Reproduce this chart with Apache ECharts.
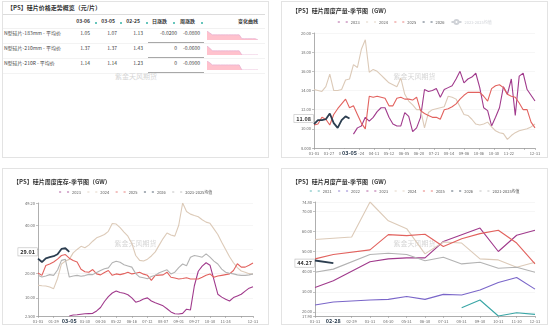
<!DOCTYPE html>
<html><head><meta charset="utf-8">
<script src="https://cdn.jsdelivr.net/npm/echarts@6.0.0/dist/echarts.min.js"></script>
<style>
html,body{margin:0;padding:0;background:#fff;}
body{width:550px;height:326px;position:relative;overflow:hidden;font-family:"Noto Sans CJK SC","Noto Sans",sans-serif;color:#333;}
.panel{position:absolute;border:1px solid #e3e3e3;box-sizing:border-box;background:#fff;}
.chart{position:absolute;left:0;top:0;width:265px;height:155px;}
.t{position:absolute;white-space:nowrap;font-size:5px;line-height:6px;color:#444;}
.hd{font-weight:bold;color:#333;}
.ic{position:absolute;width:2px;height:2.5px;background:#34b3a6;border-radius:1px;}
.ln{position:absolute;height:0;}
.sp{position:absolute;width:51px;height:9px;}
</style></head><body>
<div class="panel" id="tl" style="left:2px;top:1px;width:267px;height:157px;"></div>
<div class="panel" id="tr" style="left:281px;top:1px;width:267px;height:157px;"><div class="chart" id="c_tr"></div></div>
<div class="panel" id="bl" style="left:2px;top:168px;width:267px;height:157px;"><div class="chart" id="c_bl"></div></div>
<div class="panel" id="br" style="left:281px;top:168px;width:267px;height:157px;"><div class="chart" id="c_br"></div></div>
<script>
// ---------------- DATA: price table ----------------
const PRICE_TITLE = '【PS】硅片价格走势概览（元/片）';
const PRICE_HEADERS = ['03-06', '03-05', '02-25', '日涨跌', '周涨跌', '变化曲线'];
const PRICE_NAMES = ['N型硅片-183mm - 平均价', 'N型硅片-210mm - 平均价', 'N型硅片-210R - 平均价'];
const PRICE_0306 = ['1.05', '1.37', '1.14'];
const PRICE_0305 = ['1.07', '1.37', '1.14'];
const PRICE_0225 = ['1.13', '1.43', '1.23'];
const DAY_CHANGE = ['-0.0200', '0', '0'];
const WEEK_CHANGE = ['-0.0800', '-0.0600', '-0.0900'];
const SPARK_183 = [1.19, 1.16, 1.13, 1.13, 1.13, 1.13, 1.13, 1.13, 1.13, 1.13, 1.13, 1.13, 1.13, 1.07, 1.07, 1.07, 1.07, 1.07, 1.07, 1.05];
const SPARK_210 = [1.50, 1.47, 1.43, 1.43, 1.43, 1.43, 1.43, 1.43, 1.43, 1.43, 1.43, 1.43, 1.43, 1.37, 1.37, 1.37, 1.37, 1.37, 1.37, 1.37];
const SPARK_210R = [1.30, 1.27, 1.23, 1.23, 1.23, 1.23, 1.23, 1.23, 1.23, 1.23, 1.23, 1.23, 1.23, 1.14, 1.14, 1.14, 1.14, 1.14, 1.14, 1.14];
const WATERMARK = '紫金天风期货';

// ---------------- DATA: weekly output (top right) ----------------
const TR_TITLE = '【PS】硅片周度产量-季节图（GW）';
const TR_TICKS = ['01-03', '01-27', '02-18', '03-24', '04-11', '05-12', '06-05', '06-20', '07-21', '08-14', '09-06', '10-06', '10-30', '11-22'];
const TR_LAST_TICK = '12-31';
const TR_2023 = [null, null, null, null, null, null, null, null, null, null,
  9.45, 10.1, 10.3, 11.2, 10.8, 11.2, 11.8, 12.2, 12.2, 11.2, 10.5, 10.3, 10.3, 11.7, 11.3, 9.7, 10.1, 11.2, 14.1, 13.9,
  14.0, 14.2, 13.3, 14.1, 14.3, 14.5, 15.2, 16.0, 14.8, 15.2, 15.4, 15.8, 14.3, 12.2, 11.9, 10.3, 11.2, 12.2, 14.4, 13.6,
  15.2, 11.4, 15.5, 15.8, 14.1, 13.5, 12.9];
const TR_2024 = [14.1, 14.0, 13.9, 14.4, 15.7, 14.0, 14.0, 14.1, 15.1, 15.2, 16.7, 16.4, 18.3, 19.3, 15.9, 16.2, 16.0, 15.6, 15.2, 14.8,
  14.6, 14.4, 15.3, 13.6, 12.9, 12.5, 12.0, 12.0, 10.1, 11.7, 12.0, 12.1, 12.2, 12.3, 13.4, 13.3, 13.1, 12.3, 11.5, 11.4,
  11.0, 10.5, 10.4, 10.5, 10.7, 10.2, 9.8, 9.6, 9.5, 8.9, 9.3, 9.6, 9.8, 9.9, 10.0, 10.2, 10.5];
const TR_2025 = [10.4, 10.5, 11.2, 11.0, 10.4, 11.5, 12.1, 12.6, 13.1, 12.2, 12.4, 11.5, 10.6, 10.0, 13.4, 13.3, 13.4, 13.3, 13.2, 12.4,
  12.4, 13.2, 13.3, 13.1, 13.1, 13.0, 13.3, 11.9, 11.6, 11.4, 11.2, 11.2, 11.0, 12.0, 12.1, 12.3, 12.6, 13.1, 13.5, 13.8,
  13.8, 13.8, 13.8, 13.4, 12.9, 14.2, 14.5, 14.6, 14.3, 13.6, 13.4, 13.3, 12.7, 12.0, 12.0, 10.7, 10.1];
const TR_2026 = [10.5, 10.9, 10.9, 11.0, 11.6, 10.6, 10.1, 10.9, 11.3, 11.08];
const TR_AVG = []; // series switched off in the legend
const TR_LATEST = '03-05';

// ---------------- DATA: weekly inventory (bottom left) ----------------
const BL_TITLE = '【PS】硅片周度库存-季节图（GW）';
const BL_TICKS = ['01-03', '01-29', '02-24', '03-30', '04-26', '05-22', '06-16', '07-12', '08-07', '09-01', '09-27', '10-30', '11-24'];
const BL_LAST_TICK = '12-31';
const BL_2023 = [null, null, null, null, null, null, null, null,
  2.5, 2.9, 3.0, 3.2, 3.4, 3.5, 3.6, 4.6, 6.0, 8.5, 10.5, 12.0, 12.8, 12.2, 11.9, 11.3, 10.0, 8.2, 8.7, 9.5, 10.0, 8.7,
  8.0, 7.4, 6.7, 5.5, 4.2, 3.4, 3.3, 3.6, 5.3, 5.0, 15.0, 21.0, 23.1, 24.5, 23.5, 17.5, 11.5, 10.3, 9.4, 8.7,
  10.1, 10.8, 11.5, 12.8, 14.0, 14.6];
const BL_2024 = [15.2, 15.0, 14.9, 14.5, 13.8, 18.0, 24.0, 25.2, 25.9, 28.6, 30.0, 31.3, 30.7, 31.8, 33.4, 34.8, 35.5, 36.2, 37.5, 40.7,
  40.5, 39.0, 37.2, 35.5, 32.5, 27.5, 25.5, 25.2, 26.0, 27.3, 29.0, 31.8, 34.5, 36.8, 36.0, 35.5, 40.0, 49.2, 45.7, 44.6,
  44.0, 43.5, 42.3, 41.3, 40.8, 38.5, 36.2, 33.0, 30.0, 27.0, 24.5, 22.5, 21.1, 20.6, 20.0, 19.7];
const BL_2025 = [20.3, 19.3, 23.4, 24.0, 24.8, 26.0, 27.5, 27.9, 26.4, 25.4, 24.8, 21.8, 20.8, 20.6, 21.7, 19.9, 19.5, 20.5, 21.3, 19.3,
  19.9, 19.6, 20.0, 20.6, 19.9, 20.2, 20.6, 19.8, 19.3, 17.2, 19.3, 19.4, 19.5, 20.6, 18.5, 18.2, 17.8, 18.0, 18.3, 17.8,
  17.8, 17.8, 18.5, 19.3, 19.9, 18.5, 19.0, 19.3, 19.6, 19.9, 21.3, 24.1, 22.7, 22.7, 23.5, 24.4];
const BL_2026 = [26.2, 24.8, 26.3, 26.8, 27.2, 28.0, 30.2, 30.5, 29.01];
const BL_AVG = [19.3, 18.6, 19.0, 19.6, 19.3, 21.5, 25.5, 25.9, 18.6, 19.0, 19.3, 18.9, 19.2, 19.7, 19.6, 20.5, 21.3, 22.0, 22.4, 24.5,
  25.1, 24.7, 23.7, 23.2, 22.7, 20.0, 18.6, 18.3, 17.9, 18.8, 19.3, 20.4, 21.0, 21.6, 19.9, 20.6, 22.5, 24.0, 23.3, 26.8,
  27.5, 27.2, 26.8, 28.2, 26.8, 25.2, 24.0, 21.9, 20.6, 20.2, 19.9, 19.5, 19.3, 19.3, 19.5, 19.9];
const BL_LATEST = '03-05';

// ---------------- DATA: monthly output (bottom right) ----------------
const BR_TITLE = '【PS】硅片月度产量-季节图（GW）';
const BR_MONTHS = ['01-31', '02-28', '02-29', '03-31', '04-30', '05-31', '06-30', '07-31', '08-31', '09-30', '10-31', '11-30', '12-31'];
const BR_2021 = [null, null, null, null, null, null, null, null, 22.0, 25.9, 17.9, 19.5, 18.7];
const BR_2022 = [23.4, 24.9, null, 25.9, 26.2, 27.6, 26.2, 28.7, 28.4, 30.9, 34.6, 37.1, 31.3];
const BR_2023 = [32.1, 35.5, null, 45.0, 46.4, 46.9, 46.9, 55.1, 58.5, 61.8, 50.1, 58.2, 60.7];
const BR_2024 = [56.1, null, 57.3, 74.8, 65.4, 61.5, 48.9, 54.8, 54.3, 46.4, 45.9, 42.2, 44.7];
const BR_2025 = [46.4, 48.6, null, 50.9, 58.5, 58.0, 58.7, 52.6, 56.5, 59.0, 60.7, 54.3, 43.9];
const BR_2026 = [45.6, 44.27];
const BR_AVG = [39.7, 41.3, null, 48.6, 49.2, 48.6, 45.5, 47.2, 43.9, 44.7, 41.7, 42.2, 39.7];
const BR_LATEST = '02-28';

// ---------------- styles ----------------
const C = {y2021: '#3aa6a6', y2022: '#7a66c9', y2023: '#a03a8c', y2024: '#dccab8', y2025: '#e2625e', y2026: '#2c3e50', avg: '#b3b3b3'};
const FONT = '"Noto Sans CJK SC", "Noto Sans", sans-serif';

// ---------------- price table (HTML) ----------------
(function buildTable() {
  const tl = document.getElementById('tl');
  function put(text, x, y, align, cls) {
    const d = document.createElement('div');
    d.className = 't' + (cls ? ' ' + cls : '');
    d.textContent = text;
    d.style.top = (y - 3) + 'px';
    if (align === 'right') d.style.right = (265 - x) + 'px'; else d.style.left = x + 'px';
    tl.appendChild(d);
    return d;
  }
  function line(x, y, w, h, color) {
    const d = document.createElement('div');
    d.className = 'ln';
    d.style.cssText += `left:${x}px;top:${y}px;width:${w}px;border-top:${h}px solid ${color};`;
    tl.appendChild(d);
  }
  function icon(x, y) {
    const d = document.createElement('div');
    d.className = 'ic';
    d.style.left = x + 'px'; d.style.top = y + 'px';
    tl.appendChild(d);
  }
  const title = put(PRICE_TITLE, 4, 5.5, 'left', 'hd');
  title.style.fontSize = '6px'; title.style.lineHeight = '8px'; title.style.top = '1.5px';
  line(0, 12, 262, 1, '#dcdcdc');
  const hy = 19;
  const hdRight = [87, 112, 137, 164, 192, 255];
  const icX = [92, 117, 143, 170, 198];
  PRICE_HEADERS.forEach((h, i) => { put(h, hdRight[i], hy, 'right', 'hd'); if (i < 5) icon(icX[i], hy + 0.5); });
  line(0, 26, 262, 1, '#f1f1f1');
  const rowsY = [31, 46, 61];
  const valRight = [87, 114, 140, 174, 197];
  const sparks = [SPARK_183, SPARK_210, SPARK_210R];
  PRICE_NAMES.forEach((n, r) => {
    const y = rowsY[r];
    put(n, 1, y, 'left');
    [PRICE_0306[r], PRICE_0305[r], PRICE_0225[r], DAY_CHANGE[r], WEEK_CHANGE[r]].forEach((v, i) => put(v, valRight[i], y, 'right'));
    line(145, y + 9, 56, 1.3, '#a8a8a8');
    line(0, y + 10, 262, 1, '#f3f3f3');
    const sp = document.createElement('div');
    sp.className = 'sp';
    sp.style.left = '204px'; sp.style.top = (y - 2.3) + 'px';
    tl.appendChild(sp);
    const ch = echarts.init(sp, null, {renderer: 'canvas'});
    ch.setOption({
      animation: false,
      grid: {left: 0, right: 0, top: 0, bottom: 0},
      xAxis: {type: 'category', show: false, boundaryGap: false, data: sparks[r].map((_, i) => i)},
      yAxis: {type: 'value', show: false, min: 'dataMin', max: 'dataMax'},
      series: [{type: 'line', data: sparks[r], showSymbol: false, step: false,
        lineStyle: {width: 0.8, color: '#e7b3d3'}, areaStyle: {color: '#ffc2cd', opacity: 1}}]
    });
  });
  const wm = put(WATERMARK, 130, 75, 'left');
  wm.style.fontSize = '7px'; wm.style.color = '#d6d6d6'; wm.style.left = '112px'; wm.style.lineHeight = '9px'; wm.style.top = '70px';
})();

// ---------------- chart helpers ----------------
const fmtY = v => Number(v).toPrecision(4);
function idxSeries(name, arr, color, width, extra) {
  return Object.assign({
    name, type: 'line', data: arr.map((v, i) => [i, v]), showSymbol: false, symbol: 'emptyCircle', symbolSize: 4,
    lineStyle: {width: width, color: color}, itemStyle: {color: color}, emphasis: {disabled: true}
  }, extra || {});
}
function latestMark(xVal, xText, yVal) {
  const lbl = {show: true, position: 'start', fontWeight: 'bold', fontSize: 5.5, fontFamily: FONT, distance: 1};
  return {
    silent: true, symbol: 'none', animation: false,
    lineStyle: {color: 'rgba(255,255,255,0)', width: 0.01, type: 'solid'},
    label: Object.assign({}, lbl),
    data: [
      {xAxis: xVal, label: Object.assign({}, lbl, {formatter: xText, color: C.y2026, backgroundColor: '#fff', padding: [1, 1]})},
      {yAxis: yVal, label: Object.assign({}, lbl, {formatter: fmtY(yVal), color: '#333', backgroundColor: '#fff',
        borderColor: '#bbb', borderWidth: 0.6, padding: [1, 2]})}
    ]
  };
}
function common(title, titleTop, legendTop, legendNames, gridCfg) {
  return {
    animation: false,
    textStyle: {fontFamily: FONT},
    title: {text: title, left: 5, top: titleTop, textStyle: {fontSize: 6, fontWeight: 'bold', color: '#333', fontFamily: FONT}},
    legend: {data: legendNames, top: legendTop, left: 'center', itemWidth: 10, itemHeight: 5, itemGap: 6,
      itemStyle: {color: '#fff', borderColor: 'inherit', borderWidth: 0.8}, lineStyle: {width: 0.8},
      textStyle: {fontSize: 4, color: '#555', fontFamily: FONT, padding: [0, 0, 0, -2]}},
    grid: gridCfg,
    graphic: [{type: 'text', left: 'center', top: 71, silent: true,
      style: {text: WATERMARK, fill: '#d6d6d6', fontSize: 7, fontFamily: FONT}}]
  };
}
const axisBase = {
  axisLine: {show: true, lineStyle: {color: '#9a9a9a', width: 0.8}},
  axisTick: {show: true, length: 2, lineStyle: {color: '#9a9a9a', width: 0.6}},
  splitLine: {show: false}
};
function yAxisCfg(extra) {
  return Object.assign({
    type: 'value', axisLine: axisBase.axisLine, axisTick: axisBase.axisTick,
    splitLine: {show: true, lineStyle: {color: '#f0f0f0', width: 0.6}},
    axisLabel: {fontSize: 4, color: '#666', margin: 3, formatter: fmtY, showMinLabel: true, showMaxLabel: true}
  }, extra);
}
function idxXAxis(ticks, lastTick, max, interval) {
  return Object.assign({}, axisBase, {
    type: 'value', min: 0, max: max, interval: interval,
    axisLabel: {fontSize: 4, color: '#666', margin: 3, showMaxLabel: true, showMinLabel: true,
      formatter: v => {
        if (Math.abs(v - max) < 1e-6) return lastTick;
        const k = Math.round(v / interval);
        return Math.abs(k * interval - v) < 1e-3 ? (ticks[k] || '') : '';
      }}
  });
}

// ---------------- top right: weekly output ----------------
(function () {
  const ch = echarts.init(document.getElementById('c_tr'));
  const max = TR_2024.length - 1;
  const opt = common(TR_TITLE, 1, 12, ['2023', '2024', '2025', '2026', '2023-2025均值'],
    {left: 32, right: 12, top: 31, bottom: 9});
  opt.legend.selected = {'2023-2025均值': false};
  opt.xAxis = idxXAxis(TR_TICKS, TR_LAST_TICK, max, 3.8);
  opt.yAxis = yAxisCfg({min: 8, max: 20, interval: 2});
  opt.series = [
    idxSeries('2023', TR_2023, C.y2023, 1.1),
    idxSeries('2024', TR_2024, C.y2024, 1.1),
    idxSeries('2025', TR_2025, C.y2025, 1.1),
    idxSeries('2023-2025均值', TR_AVG, '#e8e0d8', 1.1),
    idxSeries('2026', TR_2026, C.y2026, 1.8, {z: 5, markLine: latestMark(TR_2026.length - 1, TR_LATEST, TR_2026[TR_2026.length - 1])})
  ];
  ch.setOption(opt);
})();

// ---------------- bottom left: weekly inventory ----------------
(function () {
  const ch = echarts.init(document.getElementById('c_bl'));
  const max = BL_2024.length - 1;
  const opt = common(BL_TITLE, 5, 15, ['2023', '2024', '2025', '2026', '2023-2025均值'],
    {left: 35, right: 15, top: 34, bottom: 8});
  opt.xAxis = idxXAxis(BL_TICKS, BL_LAST_TICK, max, 4);
  opt.yAxis = yAxisCfg({min: 'dataMin', max: 'dataMax'});
  opt.series = [
    idxSeries('2023', BL_2023, C.y2023, 1.1),
    idxSeries('2024', BL_2024, C.y2024, 1.1),
    idxSeries('2025', BL_2025, C.y2025, 1.1),
    idxSeries('2023-2025均值', BL_AVG, C.avg, 1.1),
    idxSeries('2026', BL_2026, C.y2026, 1.8, {z: 5, markLine: latestMark(BL_2026.length - 1, BL_LATEST, BL_2026[BL_2026.length - 1])})
  ];
  ch.setOption(opt);
})();

// ---------------- bottom right: monthly output ----------------
(function () {
  const ch = echarts.init(document.getElementById('c_br'));
  const opt = common(BR_TITLE, 5, 14, ['2021', '2022', '2023', '2024', '2025', '2026', '2021-2025均值'],
    {left: 33, right: 12, top: 33, bottom: 8});
  opt.xAxis = Object.assign({}, axisBase, {type: 'category', data: BR_MONTHS, boundaryGap: false,
    axisLabel: {fontSize: 4, color: '#666', margin: 3, interval: 0}});
  opt.yAxis = yAxisCfg({min: 'dataMin', max: 'dataMax'});
  const s = (name, arr, color, w, extra) => Object.assign({name, type: 'line', data: arr, connectNulls: true, showSymbol: false,
    symbol: 'emptyCircle', symbolSize: 4, lineStyle: {width: w, color}, itemStyle: {color}, emphasis: {disabled: true}}, extra || {});
  opt.series = [
    s('2021', BR_2021, C.y2021, 1.1),
    s('2022', BR_2022, C.y2022, 1.1),
    s('2023', BR_2023, C.y2023, 1.1),
    s('2024', BR_2024, C.y2024, 1.1),
    s('2025', BR_2025, C.y2025, 1.1),
    s('2021-2025均值', BR_AVG, C.avg, 1.1),
    s('2026', BR_2026, C.y2026, 1.8, {z: 5, markLine: latestMark(BR_MONTHS[BR_2026.length - 1], BR_LATEST, BR_2026[BR_2026.length - 1])})
  ];
  ch.setOption(opt);
})();
</script>
</body></html>
